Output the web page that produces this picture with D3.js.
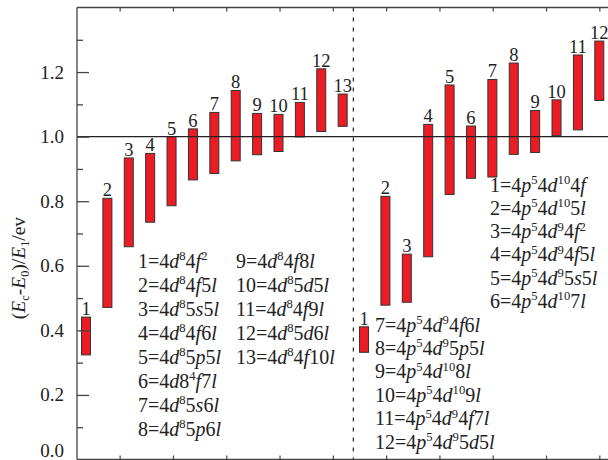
<!DOCTYPE html>
<html>
<head>
<meta charset="utf-8">
<script src="https://cdn.jsdelivr.net/npm/d3@7"></script>
<style>
  body { margin: 0; background: #fff; }
  svg { display: block; }
  text { font-family: "Liberation Serif", "Times New Roman", serif; fill: #222; }
</style>
</head>
<body>
<svg id="chart" width="608" height="460" font-family="Liberation Serif, Times New Roman, serif"></svg>
<script>
// Energy ranges (E_c - E_0)/E_1 of each configuration group
const leftLabels = ["1", "2", "3", "4", "5", "6", "7", "8", "9", "10", "11", "12", "13"];
const leftLow  = [0.324, 0.471, 0.659, 0.735, 0.786, 0.866, 0.886, 0.925, 0.944, 0.954, 0.999, 1.016, 1.032];
const leftHigh = [0.441, 0.809, 0.934, 0.948, 1.000, 1.024, 1.075, 1.143, 1.072, 1.069, 1.106, 1.210, 1.132];

const rightLabels = ["1", "2", "3", "4", "5", "6", "7", "8", "9", "10", "11", "12"];
const rightLow  = [0.332, 0.478, 0.487, 0.628, 0.821, 0.871, 0.875, 0.945, 0.951, 1.003, 1.021, 1.112];
const rightHigh = [0.411, 0.815, 0.636, 1.038, 1.160, 1.033, 1.177, 1.228, 1.081, 1.114, 1.253, 1.296];

// Configuration names (^{..} superscript, _{..} subscript)
const leftConfigs = [
  "4d^{8}4f^{2}", "4d^{8}4f5l", "4d^{8}5s5l", "4d^{8}4f6l", "4d^{8}5p5l", "4d8^{4}f7l",
  "4d^{8}5s6l", "4d^{8}5p6l", "4d^{8}4f8l", "4d^{8}5d5l", "4d^{8}4f9l", "4d^{8}5d6l", "4d^{8}4f10l"
];
const rightConfigs = [
  "4p^{5}4d^{10}4f", "4p^{5}4d^{10}5l", "4p^{5}4d^{9}4f^{2}", "4p^{5}4d^{9}4f5l", "4p^{5}4d^{9}5s5l",
  "4p^{5}4d^{10}7l", "4p^{5}4d^{9}4f6l", "4p^{5}4d^{9}5p5l", "4p^{5}4d^{10}8l", "4p^{5}4d^{10}9l",
  "4p^{5}4d^{9}4f7l", "4p^{5}4d^{9}5d5l"
];

const yTicks = [0.0, 0.2, 0.4, 0.6, 0.8, 1.0, 1.2];
const yMinorTicks = [0.1, 0.3, 0.5, 0.7, 0.9, 1.1, 1.3];
const frameTicks = [1, 2, 3, 4, 5, 6, 7, 8, 9, 10];
const yTitle = "(E_{c}-E_{0})/E_{1}/ev";

const svg = d3.select("#chart");
const plot = { left: 77, top: 7.5, bottom: 459.5, right: 610 };

const y = d3.scaleLinear().domain([0, 1.4]).range([plot.bottom, plot.top]);
const nSlots = leftLabels.length + rightLabels.length;
const xSlot = d3.scaleLinear().domain([0, nSlots - 1]).range([86, 599.3]);
const xFrame = d3.scaleLinear().domain([0.2, 10.2]).range([plot.left, plot.right]);
const barW = 9;

const bars = leftLabels.map((l, i) => ({ label: l, lo: leftLow[i], hi: leftHigh[i], slot: i }))
  .concat(rightLabels.map((l, i) => ({ label: l, lo: rightLow[i], hi: rightHigh[i], slot: leftLabels.length + i })));

// Rich text helper: italic letters, superscripts and subscripts
function rich(sel, str, size, italic) {
  let i = 0, offset = 0;
  while (i < str.length) {
    let txt, kind = "n";
    if ((str[i] === "^" || str[i] === "_") && str[i + 1] === "{") {
      const j = str.indexOf("}", i);
      txt = str.slice(i + 2, j);
      kind = str[i] === "^" ? "sup" : "sub";
      i = j + 1;
    } else {
      txt = str[i];
      i++;
    }
    const target = kind === "sup" ? -size * 0.38 : kind === "sub" ? size * 0.22 : 0;
    const ts = sel.append("tspan").text(txt).attr("dy", target - offset);
    offset = target;
    if (kind !== "n") ts.attr("font-size", size * 0.63);
    if (kind === "n" && italic.includes(txt)) ts.attr("font-style", "italic");
  }
}

// Bars
svg.append("g").selectAll("rect").data(bars).join("rect")
  .attr("x", d => xSlot(d.slot) - barW / 2)
  .attr("width", barW)
  .attr("y", d => y(d.hi))
  .attr("height", d => y(d.lo) - y(d.hi))
  .attr("fill", "#ec1c24")
  .attr("stroke", "#333")
  .attr("stroke-width", 1);

// Bar numbers
svg.append("g").selectAll("text").data(bars).join("text")
  .attr("x", d => xSlot(d.slot))
  .attr("y", d => y(d.hi) - 2)
  .attr("text-anchor", "middle")
  .attr("font-size", 18.5)
  .text(d => d.label);

// Reference line at 1.0
svg.append("line")
  .attr("x1", plot.left).attr("x2", plot.right)
  .attr("y1", y(1)).attr("y2", y(1))
  .attr("stroke", "#222").attr("stroke-width", 1.2);

// Separator between the two groups
svg.append("line")
  .attr("x1", xSlot(leftLabels.length - 0.5)).attr("x2", xSlot(leftLabels.length - 0.5))
  .attr("y1", plot.top).attr("y2", plot.bottom)
  .attr("stroke", "#222").attr("stroke-width", 1.2)
  .attr("stroke-dasharray", "4,6");

// Frame
const frame = svg.append("g").attr("stroke", "#444").attr("stroke-width", 1.3);
frame.append("line").attr("x1", plot.left).attr("x2", plot.left).attr("y1", plot.top).attr("y2", plot.bottom);
frame.append("line").attr("x1", plot.left).attr("x2", plot.right).attr("y1", plot.top).attr("y2", plot.top);
frame.append("line").attr("x1", plot.left).attr("x2", plot.right).attr("y1", plot.bottom).attr("y2", plot.bottom);

// Y axis ticks (inward)
const yAxis = d3.axisRight(y).tickValues(yTicks).tickSize(12).tickFormat("");
const yg = svg.append("g").attr("transform", `translate(${plot.left},0)`).call(yAxis);
yg.select(".domain").remove();
yg.selectAll(".tick line").attr("stroke", "#444").attr("stroke-width", 1.3);
const yMinor = d3.axisRight(y).tickValues(yMinorTicks).tickSize(6).tickFormat("");
const ymg = svg.append("g").attr("transform", `translate(${plot.left},0)`).call(yMinor);
ymg.select(".domain").remove();
ymg.selectAll(".tick line").attr("stroke", "#444").attr("stroke-width", 1.3);

// Y tick labels (the lowest one is kept inside the canvas)
svg.append("g").selectAll("text").data(yTicks).join("text")
  .attr("x", 64)
  .attr("y", d => Math.min(y(d), plot.bottom - 9))
  .attr("dy", "0.34em")
  .attr("text-anchor", "end")
  .attr("font-size", 19)
  .text(d => d3.format(".1f")(d));

// Top and bottom ticks
const topAxis = d3.axisBottom(xFrame).tickValues(frameTicks).tickSize(4).tickFormat("");
const tg = svg.append("g").attr("transform", `translate(0,${plot.top})`).call(topAxis);
tg.select(".domain").remove();
tg.selectAll(".tick line").attr("stroke", "#444").attr("stroke-width", 1.2);
const botAxis = d3.axisTop(xFrame).tickValues(frameTicks).tickSize(4).tickFormat("");
const bg = svg.append("g").attr("transform", `translate(0,${plot.bottom})`).call(botAxis);
bg.select(".domain").remove();
bg.selectAll(".tick line").attr("stroke", "#444").attr("stroke-width", 1.2);

// Y axis title
const title = svg.append("text")
  .attr("transform", "translate(25,268) rotate(-90)")
  .attr("text-anchor", "middle")
  .attr("font-size", 19.5);
rich(title, yTitle, 19.5, "E");

// Legends
const legSize = 20;
function legend(items, startIndex, x, y0, step) {
  items.forEach((c, i) => {
    const t = svg.append("text")
      .attr("x", x).attr("y", y0 + i * step)
      .attr("font-size", legSize);
    rich(t, `${startIndex + i}=${c}`, legSize, "spdfl");
  });
}
legend(leftConfigs.slice(0, 8), 1, 138, 268, 24.0);
legend(leftConfigs.slice(8), 9, 236, 268, 24.0);
legend(rightConfigs.slice(0, 6), 1, 490, 191.5, 23.3);
legend(rightConfigs.slice(6), 7, 375, 331.5, 23.4);
</script>
</body>
</html>
